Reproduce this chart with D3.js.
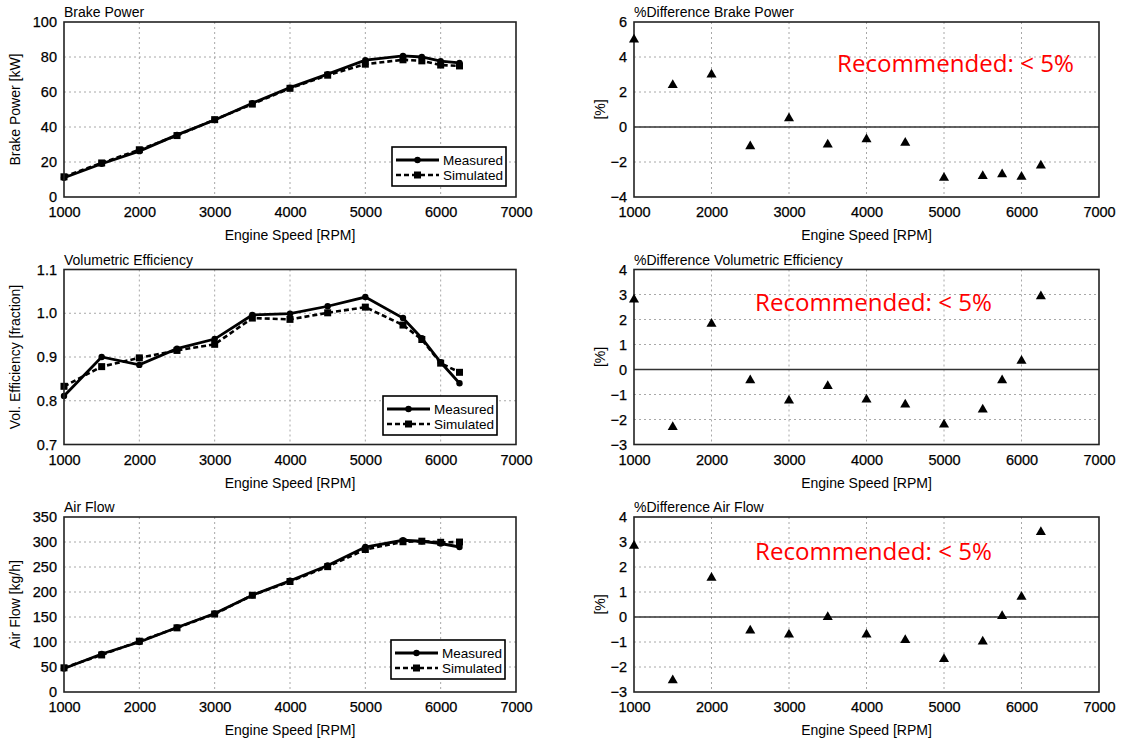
<!DOCTYPE html>
<html>
<head>
<meta charset="utf-8">
<script src="https://cdn.jsdelivr.net/npm/d3@7"></script>
<style>
  html, body { margin: 0; padding: 0; background: #fff; }
  svg { display: block; font-family: "Liberation Sans", Arial, sans-serif; }
</style>
</head>
<body>
<svg id="chart" width="1126" height="742"></svg>
<script>
// ---------------- DATA ----------------
const rpm = [1000, 1500, 2000, 2500, 3000, 3500, 4000, 4500, 5000, 5500, 5750, 6000, 6250];

const brakeMeasured  = [11.0, 19.0, 26.2, 35.5, 44.0, 53.6, 62.5, 70.2, 78.2, 80.6, 80.0, 77.6, 76.6];
const brakeSimulated = [11.55, 19.45, 27.0, 35.1, 44.2, 53.1, 62.1, 69.6, 75.9, 78.4, 77.8, 75.4, 74.9];
const brakeDiff      = [5.0, 2.4, 3.0, -1.1, 0.5, -1.0, -0.7, -0.9, -2.9, -2.8, -2.7, -2.85, -2.2];

const veMeasured  = [0.811, 0.900, 0.882, 0.919, 0.941, 0.996, 0.999, 1.016, 1.037, 0.989, 0.943, 0.888, 0.840];
const veSimulated = [0.833, 0.878, 0.898, 0.915, 0.929, 0.989, 0.986, 1.001, 1.014, 0.973, 0.940, 0.886, 0.865];
const veDiff      = [2.8, -2.3, 1.83, -0.43, -1.24, -0.66, -1.2, -1.4, -2.2, -1.6, -0.43, 0.35, 2.93];

const airMeasured  = [47, 76, 100, 129, 157, 193.5, 222.5, 253, 290, 303.5, 301.5, 297, 290];
const airSimulated = [48.4, 74.1, 101.6, 128.3, 155.9, 193.5, 221, 250.7, 285, 300.5, 301.6, 299.4, 299.9];
const airDiff      = [2.85, -2.53, 1.57, -0.54, -0.7, 0.0, -0.7, -0.92, -1.68, -0.98, 0.04, 0.81, 3.4];

const rpmTicks   = [1000, 2000, 3000, 4000, 5000, 6000, 7000];
const brakeTicks = [0, 20, 40, 60, 80, 100];
const veTicks    = [0.7, 0.8, 0.9, 1.0, 1.1];
const airTicks   = [0, 50, 100, 150, 200, 250, 300, 350];
const brakeDiffTicks = [-4, -2, 0, 2, 4, 6];
const veDiffTicks    = [-3, -2, -1, 0, 1, 2, 3, 4];
const airDiffTicks   = [-3, -2, -1, 0, 1, 2, 3, 4];

const seriesNames = ["Measured", "Simulated"];
const xTitle = "Engine Speed [RPM]";
const noteText = "Recommended: < 5%";

// ---------------- DRAWING ----------------
const svg = d3.select("#chart");
const FONT = 14;

function styleText(sel, size) {
  sel.attr("font-size", size).attr("fill", "#000")
    .attr("font-family", "Liberation Sans, Arial, sans-serif")
    .attr("stroke", "#000").attr("stroke-width", 0.25);
}

function drawFrame(g, x, y, w, h, xTicksArr, yTicksArr, yFmt, title, yLabel, yLabelX) {
  const grid = g.append("g");
  xTicksArr.slice(1, -1).forEach(t => {
    grid.append("line").attr("x1", x(t)).attr("x2", x(t)).attr("y1", 0).attr("y2", h)
      .attr("stroke", "#a8a8a8").attr("stroke-width", 1).attr("stroke-dasharray", "2,3");
  });
  yTicksArr.slice(1, -1).forEach(t => {
    grid.append("line").attr("x1", 0).attr("x2", w).attr("y1", y(t)).attr("y2", y(t))
      .attr("stroke", "#a8a8a8").attr("stroke-width", 1).attr("stroke-dasharray", "2,3");
  });
  const ax = g.append("g").attr("transform", `translate(0,${h})`)
    .call(d3.axisBottom(x).tickValues(xTicksArr).tickSize(0).tickPadding(10).tickFormat(d3.format("d")));
  ax.select(".domain").remove();
  styleText(ax.selectAll("text"), 14.5);
  const ay = g.append("g")
    .call(d3.axisLeft(y).tickValues(yTicksArr).tickSize(0).tickPadding(7).tickFormat(yFmt));
  ay.select(".domain").remove();
  styleText(ay.selectAll("text"), 14.5);
  g.append("text").attr("x", 0).attr("y", -5).attr("font-size", FONT).attr("fill", "#000").text(title);
  g.append("text").attr("x", w / 2).attr("y", h + 43).attr("text-anchor", "middle")
    .attr("font-size", FONT).attr("fill", "#000").text(xTitle);
  g.append("text").attr("transform", `translate(${yLabelX},${h / 2}) rotate(-90)`)
    .attr("text-anchor", "middle").attr("dy", "0.35em")
    .attr("font-size", FONT).attr("fill", "#000").text(yLabel);
}

function drawBox(g, w, h) {
  g.append("rect").attr("x", 0).attr("y", 0).attr("width", w).attr("height", h)
    .attr("fill", "none").attr("stroke", "#222").attr("stroke-width", 1.6);
}

function linePanel(opts) {
  const { left, top, w, h, yDomain, yTicksArr, yFmt, meas, sim, title, yLabel, legend } = opts;
  const g = svg.append("g").attr("transform", `translate(${left},${top})`);
  const x = d3.scaleLinear().domain([1000, 7000]).range([0, w]);
  const y = d3.scaleLinear().domain(yDomain).range([h, 0]);
  drawFrame(g, x, y, w, h, rpmTicks, yTicksArr, yFmt, title, yLabel, 15 - left);

  const line = d3.line().x((d, i) => x(rpm[i])).y(d => y(d));
  g.append("path").datum(sim).attr("d", line).attr("fill", "none")
    .attr("stroke", "#000").attr("stroke-width", 2.6).attr("stroke-dasharray", "5,3");
  g.append("path").datum(meas).attr("d", line).attr("fill", "none")
    .attr("stroke", "#000").attr("stroke-width", 2.8);
  g.selectAll(".sq").data(sim).enter().append("rect")
    .attr("x", (d, i) => x(rpm[i]) - 3.5).attr("y", d => y(d) - 3.5)
    .attr("width", 7).attr("height", 7).attr("fill", "#000");
  g.selectAll(".ci").data(meas).enter().append("circle")
    .attr("cx", (d, i) => x(rpm[i])).attr("cy", d => y(d)).attr("r", 3.2).attr("fill", "#000");

  drawBox(g, w, h);

  const lg = g.append("g").attr("transform", `translate(${legend[0] - left},${legend[1] - top})`);
  lg.append("rect").attr("x", 0).attr("y", 0).attr("width", 114).attr("height", 39)
    .attr("fill", "#fff").attr("stroke", "#000").attr("stroke-width", 1.6);
  const rows = [13, 28];
  lg.append("line").attr("x1", 4).attr("x2", 47).attr("y1", rows[0]).attr("y2", rows[0])
    .attr("stroke", "#000").attr("stroke-width", 2.8);
  lg.append("circle").attr("cx", 25.5).attr("cy", rows[0]).attr("r", 3.2).attr("fill", "#000");
  lg.append("line").attr("x1", 4).attr("x2", 47).attr("y1", rows[1]).attr("y2", rows[1])
    .attr("stroke", "#000").attr("stroke-width", 2.6).attr("stroke-dasharray", "5,3");
  lg.append("rect").attr("x", 22).attr("y", rows[1] - 3.5).attr("width", 7).attr("height", 7).attr("fill", "#000");
  seriesNames.forEach((n, i) => {
    lg.append("text").attr("x", 51).attr("y", rows[i]).attr("dy", "0.36em")
      .attr("font-size", 13.5).attr("fill", "#000").text(n);
  });
}

function diffPanel(opts) {
  const { left, top, w, h, yDomain, yTicksArr, vals, title, note } = opts;
  const g = svg.append("g").attr("transform", `translate(${left},${top})`);
  const x = d3.scaleLinear().domain([1000, 7000]).range([0, w]);
  const y = d3.scaleLinear().domain(yDomain).range([h, 0]);
  drawFrame(g, x, y, w, h, rpmTicks, yTicksArr, d3.format("d"), title, "[%]", 600 - left);
  g.append("line").attr("x1", 0).attr("x2", w).attr("y1", y(0)).attr("y2", y(0))
    .attr("stroke", "#333").attr("stroke-width", 1.6);
  drawBox(g, w, h);
  const tri = d3.symbol().type(d3.symbolTriangle).size(44);
  g.selectAll(".tri").data(vals).enter().append("path")
    .attr("d", tri).attr("fill", "#000")
    .attr("transform", (d, i) => `translate(${x(rpm[i])},${y(d)})`);
  g.append("text").attr("x", note[0] - left).attr("y", note[1] - top)
    .attr("font-size", 24).attr("fill", "#ff0000")
    .attr("font-family", "'Open Sans', 'Liberation Sans', sans-serif")
    .attr("textLength", 237).attr("lengthAdjust", "spacingAndGlyphs")
    .text(noteText);
}

const LW = 452, RW = 465, H = 175;
const leftX = 64, rightX = 634;
const rowTop = [22, 269.5, 517];

linePanel({ left: leftX, top: rowTop[0], w: LW, h: H, yDomain: [0, 100], yTicksArr: brakeTicks,
  yFmt: d3.format("d"), meas: brakeMeasured, sim: brakeSimulated,
  title: "Brake Power", yLabel: "Brake Power [kW]", legend: [392, 147] });
linePanel({ left: leftX, top: rowTop[1], w: LW, h: H, yDomain: [0.7, 1.1], yTicksArr: veTicks,
  yFmt: d3.format(".1f"), meas: veMeasured, sim: veSimulated,
  title: "Volumetric Efficiency", yLabel: "Vol. Efficiency [fraction]", legend: [383, 396] });
linePanel({ left: leftX, top: rowTop[2], w: LW, h: H, yDomain: [0, 350], yTicksArr: airTicks,
  yFmt: d3.format("d"), meas: airMeasured, sim: airSimulated,
  title: "Air Flow", yLabel: "Air Flow [kg/h]", legend: [391, 640] });

diffPanel({ left: rightX, top: rowTop[0], w: RW, h: H, yDomain: [-4, 6], yTicksArr: brakeDiffTicks,
  vals: brakeDiff, title: "%Difference Brake Power", note: [837, 72] });
diffPanel({ left: rightX, top: rowTop[1], w: RW, h: H, yDomain: [-3, 4], yTicksArr: veDiffTicks,
  vals: veDiff, title: "%Difference Volumetric Efficiency", note: [755, 311] });
diffPanel({ left: rightX, top: rowTop[2], w: RW, h: H, yDomain: [-3, 4], yTicksArr: airDiffTicks,
  vals: airDiff, title: "%Difference Air Flow", note: [755, 560] });
</script>
</body>
</html>
